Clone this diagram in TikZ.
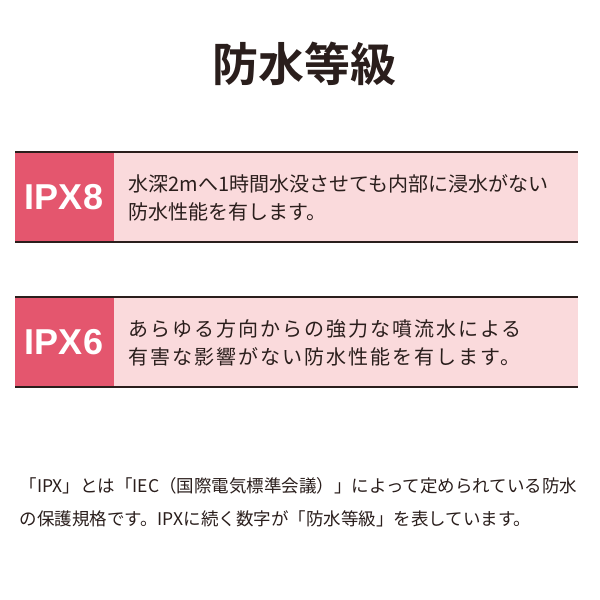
\documentclass[tikz,border=0pt]{standalone}
\usepackage{fontspec}
\setmainfont{Noto Sans CJK JP}
\newfontfamily\jpb{Noto Sans CJK JP Bold}
\newfontfamily\lat{Liberation Sans}
\newfontfamily\jpsp[LetterSpace=10]{Noto Sans CJK JP}
\definecolor{red1}{HTML}{E4566E}
\definecolor{pink1}{HTML}{FADADC}
\definecolor{dk}{HTML}{2A1E1C}
\tikzset{lbl/.style={font=\lat\bfseries\fontsize{36}{36}\selectfont,text=white},
 txt/.style={font=\fontsize{20}{28}\selectfont,text=dk,anchor=west,align=left},
 rule/.style={draw=dk,line width=1.5pt}}
\begin{document}
\begin{tikzpicture}[x=1pt,y=-1pt]
\useasboundingbox[fill=white] (0,0) rectangle (600,600);
\node[font=\jpb\fontsize{46}{46}\selectfont,text=dk] (title) at (304,64) {防水等級};
\fill[pink1] (15,152) rectangle (578,242);
\fill[red1] (15,152) rectangle (114,242);
\draw[rule] (15,152) -- (578,152) (15,242) -- (578,242);
\node[lbl] (l1) at (64,197) {IPX8};
\node[txt] (t1) at (125,198) {水深2mへ1時間水没させても内部に浸水がない\\防水性能を有します。};
\fill[pink1] (15,297) rectangle (578,387);
\fill[red1] (15,297) rectangle (114,387);
\draw[rule] (15,297) -- (578,297) (15,387) -- (578,387);
\node[lbl] (l2) at (64,342) {IPX6};
\node[txt,font=\jpsp\fontsize{20}{28}\selectfont] (t2) at (125,343) {あらゆる方向からの強力な噴流水による\\有害な影響がない防水性能を有します。};
\node[font=\fontsize{17.5}{33}\selectfont,text=dk,anchor=west,align=left] (b) at (16,502) {「IPX」とは「IEC（国際電気標準会議）」によって定められている防水\\の保護規格です。IPXに続く数字が「防水等級」を表しています。};
\end{tikzpicture}
\end{document}
